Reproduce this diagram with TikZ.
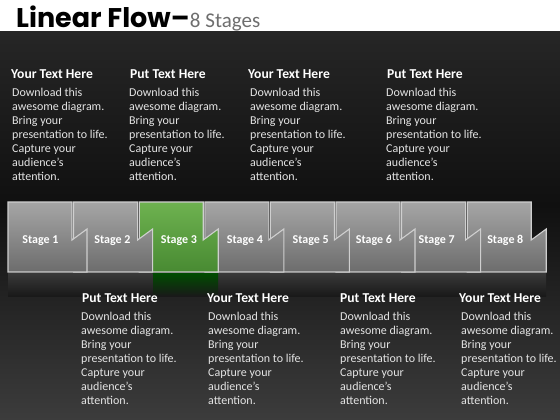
\documentclass[tikz,border=0pt]{standalone}
\usepackage{fontspec}
\setmainfont{Carlito}
\newfontfamily\titlefont{Poppins}
\usepackage{xcolor}
\usetikzlibrary{positioning}
\definecolor{bgtop}{HTML}{262626}
\definecolor{bgmid}{HTML}{101010}
\definecolor{bgbot}{HTML}{3C3C3C}
\definecolor{subgray}{HTML}{6E6E6E}
\definecolor{bodygray}{HTML}{E4E4E4}
\definecolor{rim}{HTML}{CFCFCF}
\tikzset{
  head/.style={anchor=base west, inner sep=0pt, text=white,
               font=\bfseries\fontsize{13.6}{14}\selectfont},
  body/.style={anchor=north west, inner sep=0pt, text=bodygray, align=left,
               font=\fontsize{12}{14}\selectfont},
  stagegray/.style={draw=rim, line width=1.1pt, line join=miter,
                    top color=gray!70!white, bottom color=gray!85!black},
  stagegreen/.style={draw=rim, line width=1.1pt, line join=miter,
                     top color={rgb,255:red,110;green,178;blue,80},
                     bottom color={rgb,255:red,72;green,138;blue,50}},
  mirror/.style={top color=#1, bottom color=bgmid!80!bgbot},
  stagelabel/.style={text=white, inner sep=0pt, anchor=base,
                     font=\bfseries\fontsize{12}{14}\selectfont}
}
\newcommand\blurb{Download this\\awesome diagram.\\Bring your\\presentation to life.\\Capture your\\audience’s\\attention.}

\begin{document}
\begin{tikzpicture}[x=1pt,y=-1pt]
\useasboundingbox (0,0) rectangle (560,420);

% background
\fill[white] (0,0) rectangle (560,32);
\shade[top color=bgtop, bottom color=bgmid] (0,32) rectangle (560,205);
\shade[top color=bgmid, bottom color=bgbot] (0,205) rectangle (560,420);

% title
\node[anchor=base west, inner sep=0pt] (ttl) at (16,27.5)
  {\titlefont\bfseries\fontsize{27}{28}\selectfont Linear Flow–};
\node[anchor=base west, inner sep=0pt, text=subgray,
      font=\fontsize{21}{24}\selectfont] (sub) at (ttl.base east) {8 Stages};

% reflections
\foreach \i/\col in {8/gray!45!black,7/gray!45!black,6/gray!45!black,5/gray!45!black,
                     4/gray!45!black,3/green!30!black,2/gray!45!black,1/gray!45!black}{
  \pgfmathsetmacro\xo{8+(\i-1)*65.6}
  \shade[mirror=\col] (\xo,273) rectangle (\xo+79,296);
}

% stages
\foreach \i/\sty/\cx in {8/stagegray/505.3,7/stagegray/436.7,6/stagegray/374,
                         5/stagegray/310.7,4/stagegray/245,3/stagegreen/179,
                         2/stagegray/112.5,1/stagegray/40.5}{
  \pgfmathsetmacro\xo{8+(\i-1)*65.6}
  \draw[\sty] (\xo,202) -- ++(64,0) -- ++(0,38) -- ++(15,-11)
    -- (\xo+79,272) -- (\xo,272) -- cycle;
  \node[stagelabel] (st\i) at (\cx,243) {Stage \i};
}

% upper texts
\node[head] (h1) at (11,78.5) {Your Text Here};
\node[body, below=9pt of h1.base west, anchor=north west, xshift=1pt] (b1) {\blurb};
\node[head] (h2) at (130,78.5) {Put Text Here};
\node[body, below=9pt of h2.base west, anchor=north west, xshift=-1pt] (b2) {\blurb};
\node[head] (h3) at (248,78.5) {Your Text Here};
\node[body, below=9pt of h3.base west, anchor=north west, xshift=2pt] (b3) {\blurb};
\node[head] (h4) at (387,78.5) {Put Text Here};
\node[body, below=9pt of h4.base west, anchor=north west, xshift=-1pt] (b4) {\blurb};

% lower texts
\node[head] (h5) at (82,302.5) {Put Text Here};
\node[body, below=9pt of h5.base west, anchor=north west, xshift=-1pt] (b5) {\blurb};
\node[head] (h6) at (207,302.5) {Your Text Here};
\node[body, below=9pt of h6.base west, anchor=north west, xshift=1pt] (b6) {\blurb};
\node[head] (h7) at (340,302.5) {Put Text Here};
\node[body, below=9pt of h7.base west, anchor=north west] (b7) {\blurb};
\node[head] (h8) at (459,302.5) {Your Text Here};
\node[body, below=9pt of h8.base west, anchor=north west, xshift=2pt] (b8) {\blurb};
\end{tikzpicture}
\end{document}
